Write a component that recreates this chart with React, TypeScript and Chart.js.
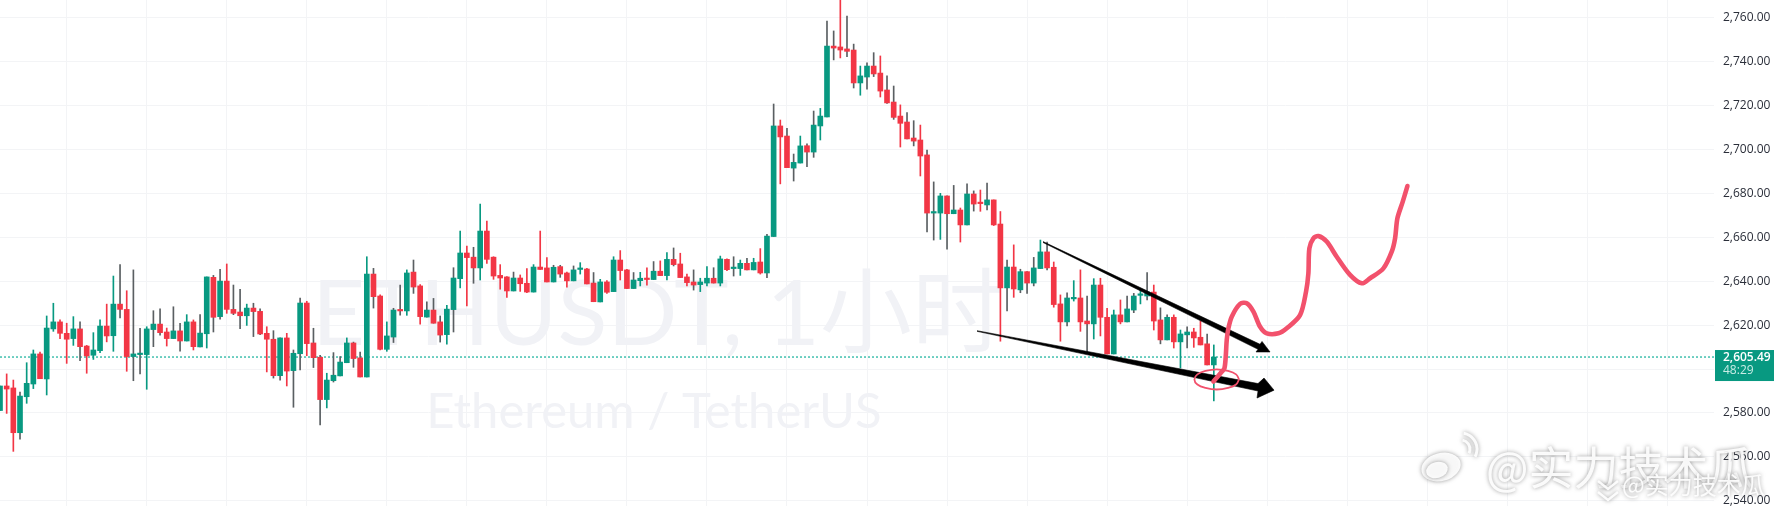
import React, { useEffect, useRef } from "react";
import { Chart, registerables } from "chart.js";

Chart.register(...registerables);

const opens = [
  2581.1,2592.3,2591.4,2571.0,2587.4,2593.2,2606.9,2595.5,2618.3,2621.5,
  2616.3,2613.9,2618.3,2610.5,2606.3,2608.4,2619.6,2615.2,2629.6,2627.2,
  2605.7,2606.6,2606.6,2618.0,2620.5,2616.9,2613.9,2617.4,2612.8,2621.5,
  2610.1,2616.1,2641.8,2623.9,2640.1,2627.2,2626.0,2624.3,2627.8,2626.3,
  2616.3,2613.6,2597.0,2614.2,2599.3,2607.0,2630.1,2611.9,2605.4,2586.1,
  2594.7,2596.9,2602.9,2611.9,2605.1,2596.4,2643.3,2633.3,2609.0,2614.6,
  2626.9,2626.5,2644.2,2637.9,2623.7,2626.9,2621.5,2615.7,2627.1,2641.2,
  2652.9,2651.0,2646.1,2662.9,2651.0,2642.7,2642.0,2635.6,2641.5,2639.1,
  2635.1,2646.5,2646.1,2639.7,2646.7,2643.8,2640.2,2645.4,2645.6,2639.2,
  2630.6,2639.7,2635.3,2649.7,2645.2,2636.7,2640.3,2641.4,2640.8,2644.6,
  2642.6,2650.0,2647.9,2642.0,2639.7,2638.5,2639.2,2641.4,2639.2,2650.0,
  2645.8,2645.8,2648.2,2645.2,2648.8,2643.8,2660.4,2710.8,2706.2,2691.6,
  2693.9,2701.8,2698.9,2710.8,2714.9,2747.2,2746.8,2745.9,2745.4,2730.4,
  2733.1,2738.1,2734.9,2727.2,2721.7,2715.3,2712.6,2705.3,2704.4,2697.6,
  2671.1,2671.1,2678.9,2670.8,2672.5,2665.7,2679.8,2675.8,2674.8,2677.1,
  2666.1,2637.0,2646.5,2636.1,2644.4,2639.2,2645.8,2653.4,2646.4,2629.7,
  2621.5,2632.0,2632.4,2621.9,2620.6,2638.3,2623.6,2606.9,2624.7,2621.5,
  2626.9,2633.6,2633.3,2635.1,2622.4,2613.3,2623.6,2612.4,2615.6,2616.9,2614.5,2611.5,2601.9,
];

const closes = [
  2592.3,2590.9,2571.0,2587.7,2593.5,2606.9,2595.6,2618.7,2621.5,2616.3,
  2613.6,2618.3,2610.2,2606.0,2608.7,2619.6,2615.1,2629.6,2627.2,2605.7,
  2606.9,2606.9,2618.3,2620.5,2616.6,2613.9,2617.4,2612.8,2621.5,2610.2,
  2616.4,2642.0,2623.6,2640.1,2627.2,2625.4,2624.3,2627.8,2626.2,2616.0,
  2613.6,2597.0,2614.2,2599.1,2607.2,2630.1,2611.6,2605.2,2586.1,2595.0,
  2597.2,2603.2,2611.9,2604.8,2596.4,2643.3,2633.0,2609.0,2615.1,2626.9,
  2626.5,2643.8,2637.4,2623.9,2626.9,2620.9,2615.5,2627.3,2641.5,2652.9,
  2650.8,2646.1,2662.9,2650.0,2642.4,2641.5,2635.6,2641.5,2638.9,2635.1,
  2646.5,2645.4,2639.7,2646.4,2643.3,2640.2,2645.2,2645.8,2638.8,2630.7,
  2639.7,2635.0,2649.7,2644.9,2636.7,2640.6,2641.4,2640.8,2644.6,2642.6,
  2650.0,2647.6,2641.7,2639.4,2638.3,2639.7,2641.4,2639.2,2650.2,2645.3,
  2646.1,2648.2,2645.2,2648.6,2643.8,2660.6,2710.8,2705.8,2691.8,2694.2,
  2701.7,2698.9,2711.2,2715.3,2747.2,2746.3,2745.4,2744.8,2730.4,2733.6,
  2738.1,2734.5,2726.7,2721.3,2714.7,2712.0,2704.9,2703.9,2697.1,2671.1,
  2671.6,2678.9,2670.8,2672.5,2665.7,2679.8,2675.2,2675.4,2677.1,2665.7,
  2637.0,2646.5,2636.5,2644.4,2639.2,2646.1,2653.4,2646.1,2629.4,2621.5,
  2632.4,2632.4,2621.5,2620.6,2638.3,2623.6,2606.9,2624.7,2621.5,2627.4,
  2633.3,2634.1,2635.1,2621.9,2613.3,2623.6,2612.4,2616.0,2616.9,2614.2,2611.0,2601.9,2605.49,
];

const highs = [
  2592.3,2597.8,2595.0,2589.5,2602.9,2608.7,2607.8,2624.2,2630.0,2622.4,
  2620.9,2623.9,2621.5,2610.8,2616.6,2622.4,2629.6,2642.4,2647.6,2635.7,
  2645.2,2618.6,2619.3,2626.6,2627.5,2618.7,2628.4,2620.9,2624.8,2622.4,
  2624.8,2642.0,2642.7,2645.5,2647.9,2638.3,2636.3,2629.6,2630.0,2627.5,
  2619.3,2617.5,2614.2,2616.3,2608.7,2632.4,2630.9,2618.6,2606.3,2598.1,
  2607.5,2605.7,2614.2,2612.3,2607.8,2651.2,2645.9,2633.8,2621.5,2627.7,
  2638.3,2645.2,2649.7,2638.5,2630.6,2632.2,2624.2,2629.1,2646.2,2662.9,
  2656.1,2655.5,2675.2,2667.5,2651.2,2647.6,2642.1,2644.2,2642.9,2645.8,
  2647.6,2662.9,2650.8,2647.3,2647.3,2644.2,2647.0,2648.5,2645.9,2644.0,
  2640.9,2640.3,2651.2,2654.0,2645.5,2644.0,2644.1,2646.1,2649.0,2649.3,
  2653.1,2655.2,2652.8,2643.3,2645.2,2641.4,2646.7,2646.2,2651.5,2650.2,
  2651.2,2649.7,2650.5,2650.5,2654.9,2661.4,2720.8,2713.5,2709.7,2698.0,
  2706.2,2702.6,2717.6,2718.8,2758.6,2754.1,2768.2,2760.9,2748.1,2738.1,
  2739.6,2744.2,2742.7,2733.6,2729.0,2720.4,2716.9,2713.2,2711.2,2699.8,
  2685.3,2680.1,2678.9,2683.7,2673.4,2684.4,2681.2,2681.6,2684.8,2677.1,
  2671.8,2649.7,2656.6,2645.5,2644.4,2650.9,2658.8,2657.9,2648.8,2633.8,
  2634.8,2640.3,2645.2,2633.3,2641.2,2641.4,2627.7,2626.9,2631.5,2633.3,
  2634.5,2635.8,2644.0,2638.3,2627.9,2624.7,2624.7,2617.8,2619.3,2618.6,2621.9,2616.0,2611.0,
];

const lows = [
  2581.1,2579.8,2562.5,2568.0,2584.4,2591.1,2595.6,2588.2,2617.2,2613.9,
  2602.6,2610.8,2603.8,2598.1,2604.4,2607.5,2612.4,2608.1,2623.3,2599.0,
  2594.7,2597.8,2590.8,2610.2,2615.4,2610.5,2613.9,2608.2,2612.8,2608.7,
  2610.1,2609.6,2616.9,2622.7,2625.4,2624.8,2618.4,2619.9,2614.8,2615.7,
  2598.7,2595.9,2595.0,2592.3,2582.6,2599.6,2606.1,2600.7,2574.5,2582.3,
  2594.1,2596.9,2602.9,2600.8,2596.4,2596.4,2627.8,2608.7,2608.1,2612.1,
  2624.6,2624.5,2634.5,2620.5,2623.7,2620.9,2612.3,2611.4,2616.9,2637.0,
  2628.8,2639.1,2640.6,2648.2,2640.9,2636.4,2632.7,2635.6,2635.4,2634.8,
  2635.1,2645.4,2639.7,2639.7,2641.8,2637.3,2640.2,2643.3,2638.8,2630.7,
  2630.6,2634.5,2635.3,2640.6,2636.7,2636.7,2637.9,2638.2,2640.8,2642.6,
  2640.6,2647.0,2641.7,2637.9,2636.0,2635.3,2637.9,2639.2,2637.9,2644.8,
  2642.4,2642.7,2645.2,2645.2,2643.3,2641.7,2660.4,2684.4,2691.8,2685.7,
  2693.9,2692.2,2696.5,2704.4,2714.9,2740.9,2741.8,2742.4,2728.1,2724.8,
  2727.6,2733.3,2724.0,2721.1,2713.8,2701.2,2704.9,2701.7,2688.0,2662.5,
  2658.8,2659.1,2654.7,2670.8,2657.9,2665.7,2672.0,2671.9,2672.5,2665.4,
  2612.7,2626.5,2632.7,2634.8,2634.5,2637.9,2645.8,2645.2,2628.2,2612.7,
  2619.7,2631.0,2617.2,2607.8,2613.7,2615.1,2606.9,2606.9,2620.6,2621.5,
  2625.7,2629.7,2631.5,2617.8,2611.5,2613.3,2609.6,2600.5,2609.6,2609.9,2611.0,2601.9,2585.5,
];

// Candles whose wick reads as dark grey in the picture.
const darkWicks = [
  3,12,18,20,21,23,24,26,27,30,32,33,35,36,38,39,41,42,44,45,47,48,50,51,53,54,56,59,60,62,64,65,66,68,71,
  77,83,84,86,89,95,98,101,104,107,110,112,115,116,118,119,121,122,124,125,127,128,130,131,133,134,136,137,
  139,140,142,143,145,146,148,151,153,154,155,157,160,163,169,170,172,174,175,178,181,
];

const yTicks = [2540,2560,2580,2600,2620,2640,2660,2680,2700,2720,2740,2760];
const gridBars = [10,22,34,46,58,70,82,94,106,118,130,142,154,166,178,190,202,214,226,238,250];
const currentPrice = 2605.49;
const countdown = "48:29";
const symbolTitle = "ETHUSDT, 1小时";
const symbolSubtitle = "Ethereum / TetherUS";
const weiboHandle = "@实力技术瓜";

// Hand-drawn marks, as (bar index, price) pairs.
const upperArrowX = [156.39,188.93,189.23,190.43,188.33,188.63,156.39];
const upperArrowY = [2658.1,2611.3,2612.6,2607.8,2607.8,2609.0,2657.7];
const lowerArrowX = [146.5,188.63,189.53,191.03,188.48,188.63,146.5];
const lowerArrowY = [2617.5,2593.4,2595.9,2590.4,2586.8,2590.0,2617.2];
const curveX = [181.94,183.19,183.59,183.79,183.94,184.19,184.69,185.94,186.94,187.94,188.94,189.94,191.69,192.94,194.93,195.83,196.18,196.33,196.93,197.68,198.93,200.43,202.43,204.18,205.43,207.43,208.68,209.18,209.53,210.33,211.03];
const curveY = [2594.3,2598.8,2600.3,2605.7,2613.3,2618.6,2623.9,2629.7,2630.0,2626.2,2619.3,2616.3,2616.3,2618.6,2624.6,2635.3,2643.6,2655.0,2659.6,2660.6,2658.1,2651.2,2642.9,2639.1,2641.4,2645.9,2653.5,2659.6,2668.7,2676.3,2683.4];
const ringX = [185.79,185.34,184.12,182.44,180.76,179.54,179.09,179.54,180.76,182.44,184.12,185.34,185.79];
const ringY = [2595.3,2597.6,2599.2,2599.9,2599.2,2597.6,2595.3,2593.0,2591.4,2590.7,2591.4,2593.0,2595.3];

const GREEN = "#089981";
const RED = "#F23645";
const DARK = "#5a5f62";
const INK = "#f2516c";
const GRID = "#f3f4f6";
const DOTTED = "#12b09a";
const AXIS_FONT = "'Open Sans', sans-serif";

const pairs = (xs: number[], ys: number[]) => xs.map((x, i) => ({ x, y: ys[i] }));

const drawingPlugin = {
  id: "drawing",
  beforeDatasetsDraw(chart: any) {
    const { ctx } = chart;
    ctx.save();
    ctx.fillStyle = "#f1f2f6";
    ctx.textBaseline = "alphabetic";
    ctx.textAlign = "center";
    ctx.font = "92px Lato, 'Noto Sans CJK SC', sans-serif";
    ctx.fillText(symbolTitle, 658, 345);
    ctx.font = "49px Lato, sans-serif";
    ctx.fillText(symbolSubtitle, 654, 428);
    ctx.restore();
  },
  afterDraw(chart: any) {
    const { ctx, scales } = chart;
    const y = scales.y.getPixelForValue(currentPrice);
    ctx.save();
    // Price tag on the axis
    ctx.fillStyle = GREEN;
    ctx.fillRect(1715, y - 7, 59, 31);
    ctx.textAlign = "left";
    ctx.textBaseline = "middle";
    ctx.font = `600 12px ${AXIS_FONT}`;
    ctx.fillStyle = "#ffffff";
    ctx.fillText(currentPrice.toFixed(2).replace(/^(\d)(\d{3})/, "$1,$2"), 1723, y + 0.5);
    ctx.font = `12px ${AXIS_FONT}`;
    ctx.fillStyle = "#c8ece5";
    ctx.fillText(countdown, 1723, y + 14);

    // Weibo marks: white glyphs with a soft grey halo
    ctx.textBaseline = "alphabetic";
    ctx.shadowColor = "rgba(100,100,100,0.7)";
    ctx.shadowBlur = 4;
    ctx.fillStyle = "rgba(255,255,255,0.92)";
    ctx.font = "45px 'Noto Sans CJK SC', sans-serif";
    ctx.fillText(weiboHandle, 1486, 485);
    ctx.font = "24px 'Noto Sans CJK SC', sans-serif";
    ctx.fillText(weiboHandle, 1622, 494);

    // Big logo
    ctx.beginPath();
    ctx.ellipse(1441, 467, 20, 14, -0.25, 0, Math.PI * 2);
    ctx.fill();
    ctx.beginPath();
    ctx.ellipse(1437, 470, 11, 8, -0.25, 0, Math.PI * 2);
    ctx.fill();
    ctx.lineWidth = 3;
    ctx.strokeStyle = "rgba(255,255,255,0.92)";
    ctx.beginPath();
    ctx.arc(1461, 449, 9, -1.4, 0.5);
    ctx.stroke();
    ctx.beginPath();
    ctx.arc(1461, 449, 16, -1.4, 0.5);
    ctx.stroke();

    // Small logo
    ctx.lineWidth = 2.5;
    for (const dy of [0, 11]) {
      ctx.beginPath();
      ctx.moveTo(1598, 481 + dy);
      ctx.lineTo(1608, 489 + dy);
      ctx.lineTo(1618, 481 + dy);
      ctx.stroke();
    }
    ctx.restore();
  },
};

export default function App() {
  const ref = useRef<HTMLCanvasElement | null>(null);

  useEffect(() => {
    document.body.style.margin = "0";
    document.body.style.background = "#ffffff";
    const wickData = highs.map((h, k) => ({ x: k, y: [lows[k], h] }));
    const bodyData = opens.map((o, k) => ({ x: k, y: [o, closes[k]] }));
    const upColor = (k: number) => (closes[k] >= opens[k] ? GREEN : RED);

    const chart = new Chart(ref.current as HTMLCanvasElement, {
      type: "bar",
      data: {
        datasets: [
          {
            type: "line",
            data: [{ x: 0, y: currentPrice }, { x: 257, y: currentPrice }],
            borderColor: DOTTED,
            borderWidth: 1.2,
            borderDash: [2, 2],
            pointRadius: 0,
            order: 7,
          },
          {
            data: wickData,
            backgroundColor: wickData.map((_, k) => (darkWicks.includes(k) ? DARK : upColor(k))),
            barThickness: 1,
            grouped: false,
            order: 6,
          },
          {
            data: bodyData,
            backgroundColor: bodyData.map((_, k) => upColor(k)),
            barThickness: 5,
            minBarLength: 1.5,
            grouped: false,
            order: 5,
          },
          {
            type: "line",
            data: pairs(upperArrowX, upperArrowY),
            borderWidth: 0.6,
            borderColor: "#000000",
            backgroundColor: "#000000",
            fill: "shape",
            tension: 0,
            pointRadius: 0,
            order: 4,
          },
          {
            type: "line",
            data: pairs(lowerArrowX, lowerArrowY),
            borderWidth: 0.6,
            borderColor: "#000000",
            backgroundColor: "#000000",
            fill: "shape",
            tension: 0,
            pointRadius: 0,
            order: 3,
          },
          {
            type: "line",
            data: pairs(ringX, ringY),
            borderWidth: 1.8,
            borderColor: INK,
            tension: 0.45,
            pointRadius: 0,
            order: 2,
          },
          {
            type: "line",
            data: pairs(curveX, curveY),
            borderWidth: 4.6,
            borderColor: INK,
            borderCapStyle: "round",
            borderJoinStyle: "round",
            tension: 0.3,
            pointRadius: 0,
            order: 1,
          },
        ],
      } as any,
      options: {
        responsive: false,
        animation: false,
        devicePixelRatio: 1,
        events: [],
        layout: { padding: 0 },
        plugins: { legend: { display: false }, tooltip: { enabled: false } },
        scales: {
          x: {
            type: "linear",
            min: 0,
            max: 257,
            offset: false,
            border: { display: false },
            grid: { color: GRID, lineWidth: 1, drawTicks: false, offset: false },
            ticks: { display: false },
            afterBuildTicks(scale: any) {
              scale.ticks = gridBars.map((value) => ({ value }));
            },
            afterFit(scale: any) {
              scale.height = 0;
              scale.paddingLeft = 0;
              scale.paddingRight = 0;
            },
          },
          y: {
            type: "linear",
            position: "right",
            min: 2537.6,
            max: 2768.2,
            border: { display: false },
            grid: { color: GRID, lineWidth: 1, drawTicks: false },
            ticks: {
              padding: 9,
              color: "#2a2e39",
              font: { family: AXIS_FONT, size: 12 },
              callback: (v: any) =>
                Number(v).toLocaleString("en-US", { minimumFractionDigits: 2, maximumFractionDigits: 2 }),
            },
            afterBuildTicks(scale: any) {
              scale.ticks = yTicks.map((value) => ({ value }));
            },
            afterFit(scale: any) {
              scale.width = 60;
              scale.paddingTop = 0;
              scale.paddingBottom = 0;
            },
          },
        },
      } as any,
      plugins: [drawingPlugin],
    });
    return () => chart.destroy();
  }, []);

  return (
    <div style={{ position: "absolute", left: 0, top: 0, width: 1774, height: 506, background: "#fff" }}>
      <canvas ref={ref} width={1774} height={506} style={{ display: "block" }} />
    </div>
  );
}
